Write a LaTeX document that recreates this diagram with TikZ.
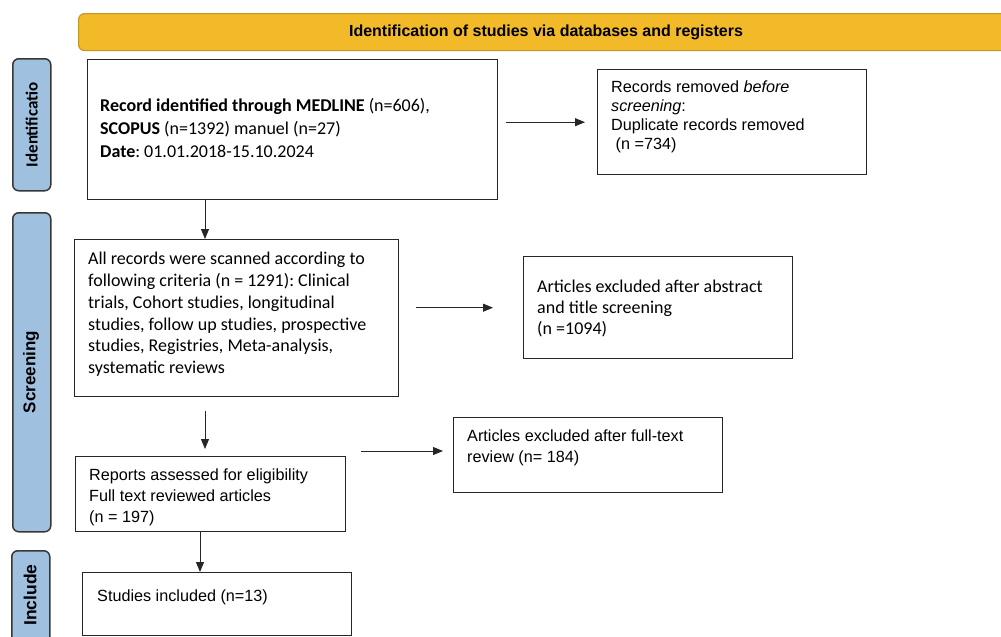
\documentclass[tikz,border=0pt]{standalone}
\usepackage{fontspec}
\setmainfont{Carlito}
\newfontfamily\arialfont{Liberation Sans}
\usetikzlibrary{arrows.meta}
\definecolor{bannerfill}{RGB}{242,185,41}
\definecolor{bannerline}{RGB}{196,150,40}
\definecolor{phasefill}{RGB}{160,192,224}
\definecolor{phaseline}{RGB}{55,55,55}
\frenchspacing
\begin{document}
\begin{tikzpicture}[x=1pt,y=-1pt,
  box/.style={draw=black!85, line width=1.4pt, anchor=north west, inner sep=0pt},
  phase/.style={draw=phaseline, fill=phasefill, line width=1.5pt, rounded corners=6pt,
    anchor=north west, inner sep=0pt, minimum width=38pt},
  txt/.style={anchor=north west, inner sep=0pt, align=left},
  cal/.style={txt, font=\fontsize{18}{22}\selectfont},
  ari/.style={txt, font=\arialfont\fontsize{16.2}{19}\selectfont},
  arr/.style={-{Triangle[length=10pt,width=8pt]}, line width=0.9pt, black!85}
]
\useasboundingbox (0,0) rectangle (1001,637);

% header banner
\node[draw=bannerline, fill=bannerfill, line width=1.2pt, rounded corners=6pt,
  anchor=north west, minimum width=940pt, minimum height=37pt] (banner) at (78,13) {};
\node[font=\arialfont\bfseries\fontsize{16}{18}\selectfont, inner sep=0pt] (bannertext) at (546,32)
  {Identification of studies via databases and registers};

% phase bars on the left
\node[phase, minimum height=132pt] (idphase) at (12,58) {};
\node[rotate=90, font=\bfseries\fontsize{17}{18}\selectfont] (idlabel) at (idphase.center) {Identificatio};
\node[phase, minimum height=319pt] (scphase) at (12,212) {};
\node[rotate=90, font=\arialfont\bfseries\fontsize{17}{18}\selectfont] (sclabel) at (31,372) {Screening};
\node[phase, minimum height=110pt] (inphase) at (11,550) {};
\node[rotate=90, font=\arialfont\bfseries\fontsize{17.5}{18}\selectfont] (inlabel) at (30,595) {Include};

% boxes
\node[box, minimum width=410pt, minimum height=140pt] (recid) at (87,59) {};
\node[cal, font=\fontsize{18}{23}\selectfont] (recidtext) at (100,98)
  {\textbf{Record identified through MEDLINE} (n=606),\\
   \textbf{SCOPUS} (n=1392) manuel (n=27)\\
   \textbf{Date}: 01.01.2018-15.10.2024};

\node[box, minimum width=269pt, minimum height=105pt] (removed) at (597,69) {};
\node[ari] (removedtext) at (611,81)
  {Records removed \textit{before}\\
   \textit{screening}:\\
   Duplicate records removed\\
   \ (n =734)};

\node[box, minimum width=324pt, minimum height=157pt] (scanned) at (74,239) {};
\node[cal, font=\fontsize{18}{21.8}\selectfont] (scannedtext) at (88,252)
  {All records were scanned according to\\
   following criteria (n = 1291): Clinical\\
   trials, Cohort studies, longitudinal\\
   studies, follow up studies, prospective\\
   studies, Registries, Meta-analysis,\\
   systematic reviews};

\node[box, minimum width=269pt, minimum height=102pt] (abstract) at (523,256) {};
\node[cal, font=\fontsize{18}{21}\selectfont] (abstracttext) at (537,280)
  {Articles excluded after abstract\\
   and title screening\\
   (n =1094)};

\node[box, minimum width=270pt, minimum height=75pt] (reports) at (75,456) {};
\node[ari, font=\arialfont\fontsize{16.2}{21}\selectfont] (reportstext) at (89,469)
  {Reports assessed for eligibility\\
   Full text reviewed articles\\
   (n = 197)};

\node[box, minimum width=269pt, minimum height=75pt] (fulltext) at (453,417) {};
\node[ari, font=\arialfont\fontsize{16.2}{21}\selectfont] (fulltexttext) at (467,430)
  {Articles excluded after full-text\\
   review (n= 184)};

\node[box, minimum width=269pt, minimum height=63pt] (included) at (82,572) {};
\node[ari] (includedtext) at (97,590)
  {Studies included (n=13)};

% connectors
\coordinate (spine) at (205,0);
\coordinate (spinelow) at (200,0);
\draw[arr] (spine |- recid.south) -- (spine |- scanned.north);
\draw[arr, shorten <=14pt, shorten >=7pt] (spine |- scanned.south) -- (spine |- reports.north);
\draw[arr] (spinelow |- reports.south) -- (spinelow |- included.north);
\draw[arr, shorten <=8pt, shorten >=12pt] (recid.east |- removed.west) -- (removed.west);
\draw[arr, shorten <=17pt, shorten >=30pt] (scanned.east |- abstract.west) -- (abstract.west);
\coordinate (ftarrow) at (0,451);
\draw[arr, shorten <=15pt, shorten >=10pt] (reports.east |- ftarrow) -- (fulltext.west |- ftarrow);
\end{tikzpicture}
\end{document}
